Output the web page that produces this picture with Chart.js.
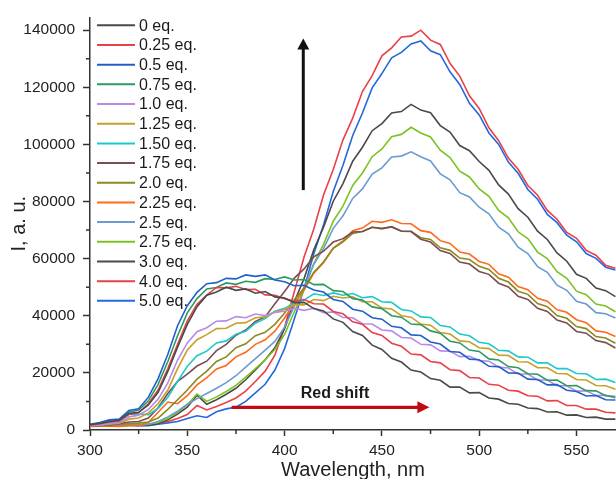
<!DOCTYPE html>
<html>
<head>
<title>Emission spectra</title>
<script src="https://cdn.jsdelivr.net/npm/chart.js@4.4.0/dist/chart.umd.min.js"></script>
<style>
body { margin: 0; background: #fff; }
#wrap { position: relative; width: 616px; height: 479px; }
</style>
</head>
<body>
<div id="wrap"><canvas id="myChart" width="616" height="479"></canvas></div>

<script>
// wavelength grid, nm
var wavelength = [300,305,310,315,320,325,330,335,340,345,350,355,360,365,370,375,380,385,390,395,
  400,405,410,415,420,425,430,435,440,445,450,455,460,465,470,475,480,485,490,495,
  500,505,510,515,520,525,530,535,540,545,550,555,560,565,570];

// intensities (a.u.)
var eq0   = [1900,2300,3000,3400,5800,6200,8800,13200,20500,29000,37000,43200,47200,48300,50000,48900,49400,47900,48500,46600,
  46200,44600,44700,42500,41700,38900,37700,34500,33100,29700,28200,25100,23800,21000,20300,18000,17400,15000,15000,13000,
  13100,11200,10800,9300,9000,7700,7500,6300,6400,5200,5300,4400,4500,3800,3800];
var eq025 = [1700,2200,2800,3200,5500,6000,9200,14000,21500,30000,38200,44000,47200,49900,49800,50300,49200,49300,47300,47200,
  46000,45100,45700,44200,44100,41500,40700,37900,37000,34100,33100,30400,29300,26600,26300,24000,23500,21100,20800,18400,
  18200,16000,15700,13900,13600,12000,11800,10200,10300,8600,8600,7300,7300,6200,6000];
var eq05  = [2000,2600,3600,3800,6800,7400,11500,18000,26500,36500,43500,48200,51200,51600,53100,52900,54300,53800,54300,52500,
  51900,50500,50700,49000,48300,45700,45000,42300,41600,39300,38800,36300,35800,33300,33100,30800,30100,27500,27200,24800,
  24600,22300,22200,20000,19900,17800,17700,15800,15900,13900,13500,11900,12100,10600,10500];
var eq075 = [1800,2400,3400,3600,6200,7000,10200,16000,24000,33000,41000,46000,49400,49900,51500,51000,52100,51700,53000,52700,
  53600,52500,52700,50900,51000,48800,48500,46000,45500,43100,42500,40000,39500,37100,36900,34700,33900,31100,30500,28000,
  27500,24900,24500,22200,21800,19700,19500,17400,17500,15500,15600,13800,13700,12000,11700];
var eq10  = [1500,1800,2200,2600,4600,5200,7200,10800,16500,24500,30500,34400,35800,38100,38200,39700,39300,40600,40100,41200,
  41600,42600,41900,42600,41100,41300,39400,39300,37200,37100,35000,34700,32400,32200,30000,29800,27700,27600,25700,25800,
  24300,24100,22000,21700,19600,19600,17500,17500,15500,15500,13600,13700,12100,12200,11200];
var eq125 = [1500,1700,2000,2400,3800,4200,6000,9200,14000,21500,28000,31600,33400,35500,35600,37400,37600,39300,39600,41400,
  42200,43900,43800,45700,45300,46800,46200,46600,44900,44900,42700,42400,40000,39500,37100,36700,34100,33600,31200,30900,
  28800,28500,26200,26100,23900,23800,21800,21800,19800,19700,17700,17500,15600,15500,14300];
var eq150 = [1600,2000,2600,3000,5500,5600,5400,7600,11500,17000,22300,26000,27600,30500,31200,33500,34600,37400,39000,41600,
  42600,44500,45500,47700,47100,48000,47200,47800,46300,46700,44900,44700,42200,41700,39600,39400,36600,36100,33600,33000,
  30700,30200,27900,27700,25600,25500,23500,23500,21500,21500,19800,19700,17700,17800,16600];
var eq175 = [1400,1600,1800,2200,2800,3000,4200,7800,12800,17000,19600,22400,24100,27800,30000,33200,35000,38000,39600,44200,
  48500,53200,56400,60600,62600,65800,67000,69300,69500,71000,70600,71100,69600,69500,66800,65800,62800,61800,58800,58100,
  55500,54500,51400,50100,46800,45700,42600,41500,38500,37500,34500,33900,31300,30600,28700];
var eq20  = [1400,1500,1700,2000,2200,2400,2800,4200,7200,10600,14000,17800,20600,24000,25600,28800,30200,33000,34200,37000,
  41000,45600,49600,55200,58800,63600,65900,68800,69500,71000,70400,71200,69700,69600,67300,66700,63800,62900,60200,59700,
  57300,56200,53100,51800,48600,47500,44300,43200,40100,39100,36200,35500,32700,32200,30400];
var eq225 = [1200,1300,1300,1200,1500,1600,2600,6200,9800,9200,12000,15800,18300,21400,22600,25600,27200,30000,31600,34600,
  39200,44600,49000,54900,58600,63700,66200,69800,70700,73100,72700,73600,72300,72200,69800,69200,66300,65300,62300,61600,
  59000,58000,54700,53500,50200,49100,46100,45100,42100,41200,38600,37600,34700,34200,32700];
var eq25  = [1300,1400,1500,1500,1700,1800,2000,3000,4600,6600,9000,11000,12800,14600,16600,19000,22000,25000,28000,31000,
  36000,43400,50000,58000,63500,70600,75000,81100,84400,89600,91800,95600,95900,97400,95700,94200,89700,87600,83100,81600,
  78000,75700,71000,68700,64000,61800,57200,55200,50700,48900,45100,44100,41100,40700,39200];
var eq275 = [1300,1400,1600,1600,1800,1700,2000,2600,4000,6200,8800,12600,10000,11600,13500,15600,18500,21500,24600,28200,
  33500,41400,49000,58300,65000,73100,78400,85600,90000,95700,98400,102700,103500,106000,104000,102600,98000,95400,90600,88600,
  84400,81800,76900,74300,69400,67000,62300,60000,55400,53100,48600,47400,44100,43400,41400];
var eq30  = [1300,1300,1500,1500,1600,1600,1700,2200,3600,5600,8000,12200,9000,10600,12500,14600,17600,21000,24600,28800,
  35500,44900,53000,63100,71000,80100,86300,94100,99000,104800,107300,111000,111500,114000,112000,111100,106600,104300,99600,97800,
  94000,90900,85800,82600,77500,74500,69600,66700,62000,59100,54500,53100,49700,48800,46700];
var eq40  = [1400,1500,1500,1700,1900,1800,2000,2400,3000,4000,5400,8600,7000,8200,9600,11200,13600,17000,20600,26200,
  36000,48500,60600,70400,82300,91200,101600,109200,118500,124100,131000,133800,137600,137900,140000,136500,135000,128400,123900,117000,
  112600,105800,101300,95200,91300,85600,82200,76900,73800,69200,67100,62900,61200,57700,56600];
var eq50  = [1400,1500,1400,1500,1800,1500,1500,2000,2500,3000,4000,5000,4400,6400,7400,8000,10000,13000,16000,21000,
  28500,38900,49500,61700,71800,83500,92700,103100,111000,119800,124800,130300,132200,135200,136200,132800,131400,125400,121000,114400,
  110300,104000,100000,93800,89900,84200,80800,75500,72600,68200,65900,61800,60100,57000,56000];

var seriesNames = ['0 eq.','0.25 eq.','0.5 eq.','0.75 eq.','1.0 eq.','1.25 eq.','1.50 eq.','1.75 eq.',
  '2.0 eq.','2.25 eq.','2.5 eq.','2.75 eq.','3.0 eq.','4.0 eq.','5.0 eq.'];
var seriesValues = [eq0,eq025,eq05,eq075,eq10,eq125,eq150,eq175,eq20,eq225,eq25,eq275,eq30,eq40,eq50];
var seriesColors = ['#4a4a4a','#e8414a','#2160c8','#2e9a62','#b68ae6','#c8a028','#1ec8cc','#7a4e52',
  '#8a8a20','#ff6a1a','#6c9bd2','#7cc222','#4a4a4a','#e8414a','#2468de'];

var xTicks = [300,350,400,450,500,550];
var xMinor = [325,375,425,475,525];
var yTicks = [0,20000,40000,60000,80000,100000,120000,140000];
var yMinor = [10000,30000,50000,70000,90000,110000,130000];

var FONT = '"Liberation Sans", Arial, sans-serif';
var AXIS = '#333333';

var datasets = seriesNames.map(function(name, i) {
  return {
    label: name,
    data: seriesValues[i].map(function(v, k) { return {x: wavelength[k], y: v}; }),
    borderColor: seriesColors[i],
    borderWidth: 1.6,
    pointRadius: 0,
    tension: 0,
    fill: false
  };
});

// small minor ticks, pointing outward like the major ones
var minorTicks = {
  id: 'minorTicks',
  afterDraw: function(chart) {
    var ctx = chart.ctx, xs = chart.scales.x, ys = chart.scales.y;
    ctx.save();
    ctx.strokeStyle = AXIS;
    ctx.lineWidth = 1.5;
    ctx.beginPath();
    xMinor.forEach(function(v) {
      var px = xs.getPixelForValue(v);
      ctx.moveTo(px, ys.bottom); ctx.lineTo(px, ys.bottom + 4);
    });
    yMinor.forEach(function(v) {
      var py = ys.getPixelForValue(v);
      ctx.moveTo(xs.left, py); ctx.lineTo(xs.left - 4, py);
    });
    ctx.stroke();
    ctx.restore();
  }
};

// legend list inside the plot, top left
var insideLegend = {
  id: 'insideLegend',
  afterDatasetsDraw: function(chart) {
    var ctx = chart.ctx, a = chart.chartArea;
    ctx.save();
    ctx.font = '16px ' + FONT;
    ctx.textBaseline = 'middle';
    ctx.textAlign = 'left';
    chart.data.datasets.forEach(function(ds, i) {
      var y = a.top + 8 + i * 19.68;
      ctx.strokeStyle = ds.borderColor;
      ctx.lineWidth = 2;
      ctx.beginPath();
      ctx.moveTo(a.left + 7, y); ctx.lineTo(a.left + 45, y);
      ctx.stroke();
      ctx.fillStyle = '#1a1a1a';
      ctx.fillText(ds.label, a.left + 49, y + 1);
    });
    ctx.restore();
  }
};

// the two arrows and the "Red shift" note
var arrows = {
  id: 'arrows',
  afterDatasetsDraw: function(chart) {
    var ctx = chart.ctx, xs = chart.scales.x, ys = chart.scales.y;
    ctx.save();
    // intensity arrow
    var ax = xs.getPixelForValue(409.6);
    var ay0 = ys.getPixelForValue(84000), ay1 = ys.getPixelForValue(137100);
    ctx.strokeStyle = '#111'; ctx.fillStyle = '#111'; ctx.lineWidth = 3;
    ctx.beginPath(); ctx.moveTo(ax, ay0); ctx.lineTo(ax, ay1 + 9); ctx.stroke();
    ctx.beginPath(); ctx.moveTo(ax, ay1); ctx.lineTo(ax - 6, ay1 + 11); ctx.lineTo(ax + 6, ay1 + 11); ctx.closePath(); ctx.fill();
    // red shift arrow
    var ry = ys.getPixelForValue(7950);
    var rx0 = xs.getPixelForValue(372.8), rx1 = xs.getPixelForValue(474.4);
    ctx.strokeStyle = '#c00a14'; ctx.fillStyle = '#c00a14'; ctx.lineWidth = 3.3;
    ctx.beginPath(); ctx.moveTo(rx0, ry); ctx.lineTo(rx1 - 9, ry); ctx.stroke();
    ctx.beginPath(); ctx.moveTo(rx1, ry); ctx.lineTo(rx1 - 12, ry - 6); ctx.lineTo(rx1 - 12, ry + 6); ctx.closePath(); ctx.fill();
    ctx.font = 'bold 16px ' + FONT;
    ctx.fillStyle = '#1a1a1a';
    ctx.textAlign = 'center';
    ctx.textBaseline = 'middle';
    ctx.fillText('Red shift', xs.getPixelForValue(425.9), ys.getPixelForValue(12600));
    ctx.restore();
  }
};

var ctx = document.getElementById('myChart').getContext('2d');
var chart = new Chart(ctx, {
  type: 'line',
  data: { datasets: datasets },
  plugins: [minorTicks, insideLegend, arrows],
  options: {
    responsive: false,
    animation: false,
    devicePixelRatio: 1,
    layout: { padding: { top: 17, right: 0, left: 0, bottom: 0 } },
    plugins: { legend: { display: false }, tooltip: { enabled: false } },
    scales: {
      x: {
        type: 'linear',
        min: 300,
        max: 570.3,
        afterBuildTicks: function(s) { s.ticks = xTicks.map(function(v) { return {value: v}; }); },
        afterFit: function(s) { s.height = 49; },
        grid: { drawOnChartArea: false, drawTicks: true, tickLength: 6, tickColor: AXIS, tickWidth: 1.5 },
        border: { display: true, color: AXIS, width: 1.5 },
        ticks: { font: { family: FONT, size: 15.5 }, color: '#222', padding: 5, maxRotation: 0, autoSkip: false },
        title: { display: true, text: 'Wavelength, nm', font: { family: FONT, size: 20 }, color: '#222', padding: { top: 0, bottom: -3 } }
      },
      y: {
        min: 0,
        max: 144500,
        afterBuildTicks: function(s) { s.ticks = yTicks.map(function(v) { return {value: v}; }); },
        afterFit: function(s) { s.width = 90; },
        grid: { drawOnChartArea: false, drawTicks: true, tickLength: 7, tickColor: AXIS, tickWidth: 1.5 },
        border: { display: true, color: AXIS, width: 1.5 },
        ticks: { font: { family: FONT, size: 15.5 }, color: '#222', padding: 8, autoSkip: false,
          callback: function(v) { return String(v); } },
        title: { display: true, text: 'I, a. u.', font: { family: FONT, size: 20 }, color: '#222', padding: { top: 7, bottom: 0 } }
      }
    }
  }
});
</script>
</body>
</html>
